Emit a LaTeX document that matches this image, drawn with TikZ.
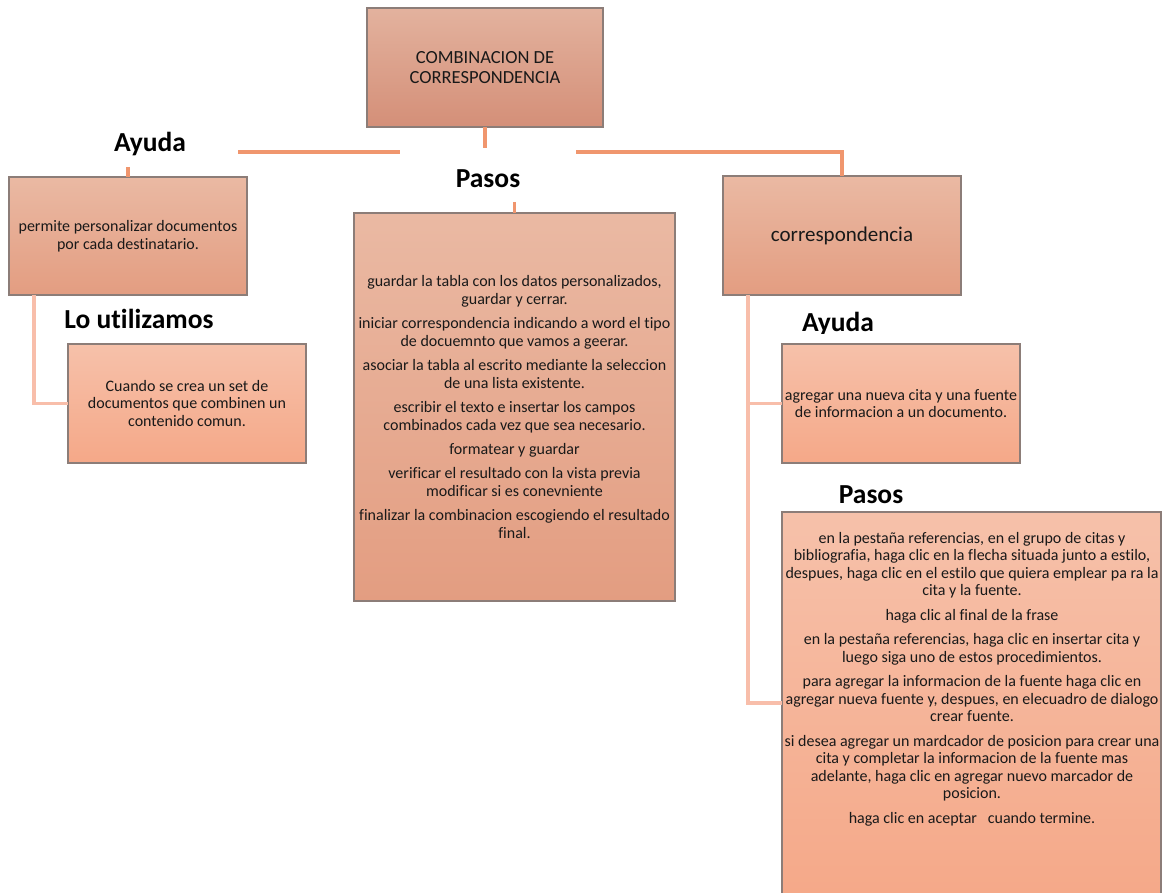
\documentclass[tikz,border=0pt]{standalone}
\usepackage{fontspec}
\setmainfont{Carlito}[Ligatures={NoCommon}]
\definecolor{topA}{RGB}{227,178,158}
\definecolor{topB}{RGB}{212,143,120}
\definecolor{midA}{RGB}{234,185,163}
\definecolor{midB}{RGB}{227,157,129}
\definecolor{lowA}{RGB}{246,193,170}
\definecolor{lowB}{RGB}{245,168,136}
\definecolor{edge}{RGB}{140,125,120}
\definecolor{conn}{RGB}{240,150,110}
\definecolor{connB}{RGB}{248,190,170}
\definecolor{ink}{RGB}{25,25,25}
\begin{document}
\begin{tikzpicture}[x=1pt,y=-1pt,
  boxbase/.style={draw=edge,line width=1.3pt,inner sep=0pt,outer sep=0pt,align=center,text=ink,
    font=\fontsize{16}{17.6}\selectfont},
  topbox/.style={boxbase,top color=topA,bottom color=topB},
  midbox/.style={boxbase,top color=midA,bottom color=midB},
  lowbox/.style={boxbase,top color=lowA,bottom color=lowB},
  head/.style={anchor=base,inner sep=0pt,text=black,font=\fontsize{27.5}{30}\selectfont\bfseries},
  mainline/.style={draw=conn,line width=3.2pt},
  subline/.style={draw=connB,line width=3.2pt},
  txt/.style={align=center,inner sep=0pt,text=ink,font=\fontsize{16}{17.5}\selectfont}
]
\useasboundingbox (0,0) rectangle (1162,893);

% boxes
\node[topbox,minimum width=236,minimum height=119,font=\fontsize{18.5}{20.5}\selectfont] (top) at (485,67.5)
  {COMBINACION DE\\CORRESPONDENCIA};
\node[midbox,minimum width=238,minimum height=118] (b1) at (128,236)
  {permite personalizar documentos\\por cada destinatario.};
\node[lowbox,minimum width=238,minimum height=119] (b2) at (187,403.5)
  {Cuando se crea un set de\\documentos que combinen un\\contenido comun.};
\node[midbox,minimum width=321,minimum height=388,font=\fontsize{16}{17.6}\selectfont] (bm) at (514.5,407)
  {guardar la tabla con los datos personalizados,\\guardar y cerrar.\\[6.8pt]
   iniciar correspondencia indicando a word el tipo\\de docuemnto que vamos a geerar.\\[6.8pt]
   asociar la tabla al escrito mediante la seleccion\\de una lista existente.\\[6.8pt]
   escribir el texto e insertar los campos\\combinados cada vez que sea necesario.\\[6.8pt]
   formatear y guardar\\[6.8pt]
   verificar el resultado con la vista previa\\modificar si es conevniente\\[6.8pt]
   finalizar la combinacion escogiendo el resultado\\final.};
\node[midbox,minimum width=238,minimum height=119,font=\fontsize{21}{24}\selectfont] (r1) at (842,235.5)
  {correspondencia};
\node[lowbox,minimum width=238,minimum height=119] (r2) at (901,403.5)
  {agregar una nueva cita y una fuente\\de informacion a un documento.};
\node[lowbox,minimum width=379,minimum height=393] (r3) at (971.5,708.5) {};
\node[txt] (r3t) at (972,679)
  {en la pestaña referencias, en el grupo de citas y\\
   bibliografia, haga clic en la flecha situada junto a estilo,\\
   despues, haga clic en el estilo que quiera emplear pa ra la\\
   cita y la fuente.\\[7pt]
   haga clic al final de la frase\\[7pt]
   en la pestaña referencias, haga clic en insertar cita y\\
   luego siga uno de estos procedimientos.\\[7pt]
   para agregar la informacion de la fuente haga clic en\\
   agregar nueva fuente y, despues, en elecuadro de dialogo\\
   crear fuente.\\[7pt]
   si desea agregar un mardcador de posicion para crear una\\
   cita y completar la informacion de la fuente mas\\
   adelante, haga clic en agregar nuevo marcador de\\
   posicion.\\[7pt]
   haga clic en aceptar\ \ \ cuando termine.};

% headings
\node[head] (hAyudaL) at (150,152) {Ayuda};
\node[head] (hLo) at (139,328) {Lo utilizamos};
\node[head] (hPasosM) at (488,188) {Pasos};
\begin{scope}
  \clip (780,290) rectangle (900,333.5);
  \node[head] (hAyudaR) at (838,332) {Ayuda};
\end{scope}
\node[head] (hPasosR) at (871,503) {Pasos};

% connector points
\coordinate (j0) at (485,148);
\coordinate (hl1) at (238,152);
\coordinate (hl2) at (400,152);
\coordinate (hr1) at (576,152);
\coordinate (hr2) at (842,152);
\coordinate (al) at (128,167);
\coordinate (pm) at (514.5,202);
\coordinate (c1) at (34,295);
\coordinate (c2) at (748,295);
\coordinate (c3) at (782,703);

% main connectors
\draw[mainline] (top.south) -- (j0);
\draw[mainline] (hl1) -- (hl2);
\draw[mainline] (hr1) -- (hr2) -- (r1.north);
\draw[mainline] (al) -- (b1.north);
\draw[mainline] (pm) -- (bm.north);

% secondary connectors
\draw[subline] (c1) |- (b2.west);
\draw[subline] (c2) |- (c3);
\draw[subline] (c2 |- r2.west) -- (r2.west);
\end{tikzpicture}
\end{document}
